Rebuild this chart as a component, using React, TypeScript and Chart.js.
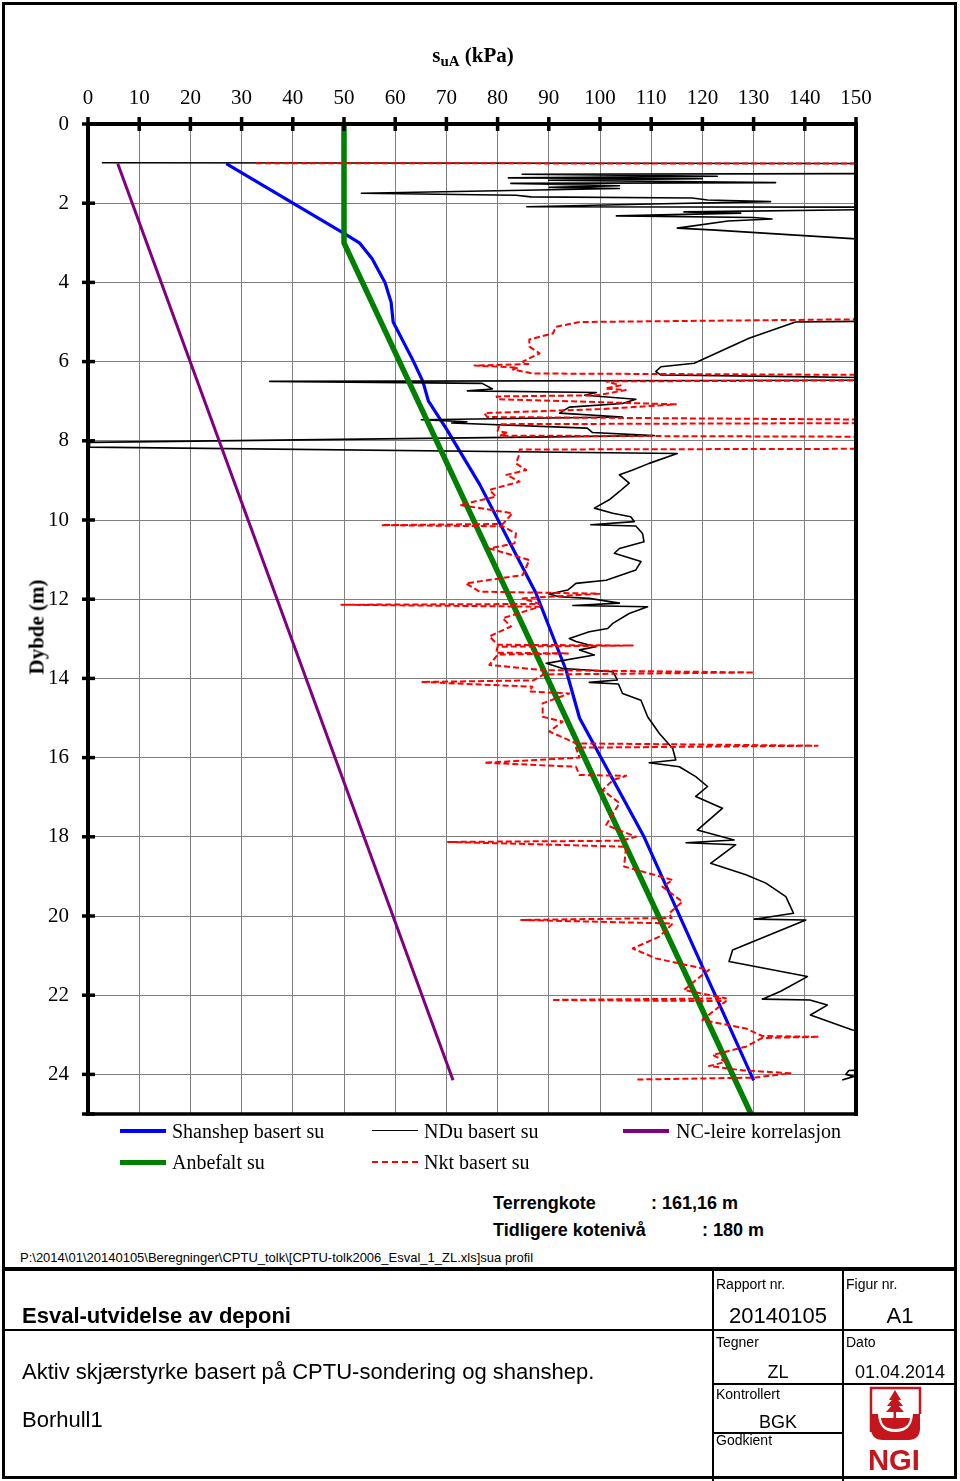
import React, { useEffect, useRef } from 'react';
import { Chart, registerables } from 'chart.js';

Chart.register(...registerables);

// ---------- data ----------
const SU_MIN = 0;
const SU_MAX = 150;
const SU_STEP = 10;
const DEPTH_MIN = 0;
const DEPTH_MAX = 25;
const DEPTH_STEP = 2;

// [su (kPa), depth (m)]
const shanshepProfile: [number, number][] = [
  [27, 1.0], [50, 2.76], [53, 3.0], [55.5, 3.4], [58, 4.0], [59.2, 4.5], [59.6, 5.0],
  [63.4, 5.95], [65.4, 6.5], [66.5, 7.0], [70, 7.7], [76.5, 9.1], [87.5, 11.85],
  [93.4, 13.8], [96, 15.0], [108.6, 18.0], [130, 24.15],
];

const anbefaltProfile: [number, number][] = [
  [50, 0], [50, 3.0], [129.5, 25],
];

const ncLeireProfile: [number, number][] = [
  [5.8, 1.0], [71.3, 24.15],
];

const nduProfile: [number, number][] = [
  [2.7, 0.98], [160, 1.0], [160, 1.25], [84.8, 1.27], [122.9, 1.32], [82.1, 1.36], [120, 1.38],
  [90, 1.42], [134.3, 1.48], [82.6, 1.5], [103.8, 1.56], [90.1, 1.6], [103.8, 1.63], [53.4, 1.75],
  [83.6, 1.8], [86.5, 1.84], [118, 1.87], [121, 1.92], [133.3, 1.96], [110, 2.02], [85.7, 2.09],
  [160, 2.1], [160, 2.15], [116.4, 2.22], [127.5, 2.25], [103.2, 2.32], [130, 2.36], [133.6, 2.4],
  [125, 2.45], [115.1, 2.63], [122.6, 2.68], [150, 2.9], [160, 2.92], [160, 4.97], [138.2, 5.0],
  [129.1, 5.41], [118.4, 6.04], [111.9, 6.13], [110.9, 6.25], [111.9, 6.34], [138, 6.38],
  [160, 6.42], [160, 6.47], [35.5, 6.5], [77, 6.55], [79, 6.69], [74.1, 6.74], [99.3, 6.78],
  [97, 6.85], [107, 6.95], [104.4, 7.06], [94, 7.15], [92.1, 7.3], [104.4, 7.4], [65.1, 7.47],
  [74, 7.52], [71, 7.55], [97.5, 7.68], [98.5, 7.79], [110.6, 7.87], [0.3, 8.04], [0.3, 8.16],
  [115.1, 8.32], [109.6, 8.57], [106.4, 8.74], [103.8, 8.86], [105.7, 9.07], [103.8, 9.28],
  [101.8, 9.49], [98.9, 9.7], [102.5, 9.83], [106, 9.92], [106.7, 10.04], [98.2, 10.12],
  [107, 10.15], [108.3, 10.34], [108.6, 10.55], [103.8, 10.72], [102.8, 10.84], [108, 11.05],
  [107, 11.26], [101.2, 11.52], [95.3, 11.6], [93.7, 11.77], [90.1, 11.87], [92, 11.94],
  [97.9, 11.98], [103.8, 12.1], [94.7, 12.16], [109.3, 12.19], [105.7, 12.36], [102.5, 12.61],
  [101.5, 12.74], [97.9, 12.82], [94, 12.99], [95.3, 13.07], [99.2, 13.2], [96, 13.28],
  [98.9, 13.41], [89.5, 13.62], [92.7, 13.75], [102.5, 13.83], [103.4, 14.04], [97.9, 14.1],
  [103.6, 14.14], [104.4, 14.38], [108, 14.55], [109.3, 14.97], [111.6, 15.39], [114.2, 15.77],
  [114.8, 16.06], [109.6, 16.13], [115.5, 16.23], [118.7, 16.48], [121, 16.73], [118.7, 16.98],
  [123.9, 17.28], [119, 17.83], [126.2, 18.08], [116.8, 18.15], [126.5, 18.2], [121.6, 18.67],
  [128.5, 18.96], [132.4, 19.17], [136.3, 19.51], [137.8, 19.93], [130.1, 20.08], [140.2, 20.1],
  [125.9, 20.86], [125.2, 21.15], [140.5, 21.53], [135.3, 21.9], [131.7, 22.1], [141, 22.12],
  [144.4, 22.25], [141.1, 22.5], [149.3, 22.88], [160, 23.0], [160, 23.85], [148.6, 23.9],
  [148, 24.0], [149.6, 24.05], [147.3, 24.14],
];

const nktProfile: [number, number][] = [
  [32.8, 0.99], [160, 1.0], [160, 4.92], [96, 5.0], [91.4, 5.12], [90.8, 5.29], [86.2, 5.44],
  [86.2, 5.62], [88.2, 5.79], [84.9, 6.0], [86, 6.06], [75.5, 6.1], [84, 6.15], [83, 6.2],
  [86.8, 6.3], [160, 6.34], [160, 6.47], [101.2, 6.5], [104, 6.6], [101, 6.68], [105, 6.72],
  [99.5, 6.85], [79.8, 6.88], [80, 6.95], [114.8, 7.08], [100, 7.2], [77.4, 7.3], [78, 7.4],
  [160, 7.47], [160, 7.55], [80.4, 7.58], [80, 7.75], [82, 7.8], [80.4, 7.87], [160, 7.9],
  [160, 8.2], [84.3, 8.22], [84.3, 8.32], [83.6, 8.57], [85.6, 8.74], [81.7, 8.86], [84.3, 9.03],
  [78.4, 9.24], [79.7, 9.41], [72.6, 9.62], [82.9, 9.83], [81, 10.1], [57.3, 10.13], [81, 10.16],
  [83.6, 10.34], [83.3, 10.59], [78.4, 10.72], [86.2, 11.01], [84.9, 11.39], [73.8, 11.6],
  [76.5, 11.81], [99.9, 11.86], [84.9, 11.98], [88.2, 12.12], [49.5, 12.14], [88.2, 12.19],
  [81, 12.48], [82.6, 12.69], [78.4, 12.94], [80, 13.15], [106.4, 13.17], [80, 13.2],
  [79.7, 13.35], [94, 13.37], [80, 13.4], [78.4, 13.66], [88.8, 13.79], [130.1, 13.85],
  [89, 13.9], [87, 14.05], [65.1, 14.09], [86.8, 14.21], [86.2, 14.33], [94, 14.38],
  [88.8, 14.63], [88.8, 14.97], [92.7, 15.09], [90.1, 15.34], [95.3, 15.64], [142.5, 15.7],
  [95.3, 15.75], [96, 16.0], [77.4, 16.13], [95.3, 16.23], [96, 16.44], [105.1, 16.46],
  [102.5, 16.57], [100.5, 16.82], [103.8, 17.15], [101.2, 17.7], [107, 18.0], [104, 18.1],
  [70.3, 18.13], [105.1, 18.25], [104.7, 18.75], [114.2, 19.09], [112.2, 19.26], [116.1, 19.64],
  [113.5, 19.93], [114, 20.05], [84.6, 20.1], [114.2, 20.19], [111.6, 20.52], [106.4, 20.82],
  [110.9, 21.07], [121.3, 21.36], [118.7, 21.62], [116.4, 21.87], [124.6, 22.08], [90.6, 22.12],
  [124.6, 22.15], [122, 22.42], [120, 22.63], [128.5, 22.84], [131.7, 23.03], [142.8, 23.05],
  [131.7, 23.08], [128.5, 23.3], [122, 23.51], [124.6, 23.68], [121.3, 23.79], [128, 23.9],
  [137.2, 23.97], [130.4, 24.08], [107, 24.13],
];

const seriesNames = ['Shanshep basert su', 'NDu basert su', 'NC-leire korrelasjon', 'Anbefalt su', 'Nkt basert su'];

// ---------- styling ----------
const SERIF = '"Liberation Serif", "Times New Roman", serif';
const SANS = '"Liberation Sans", Arial, sans-serif';
const BLUE = '#0000ff';
const GREEN = '#008000';
const PURPLE = '#800080';
const RED = '#ff0000';
const LOGO_RED = '#c4161c';

const toPts = (p: [number, number][]) => p.map(([x, y]) => ({ x, y }));

const framePlugin = {
  id: 'frame',
  afterDatasetsDraw(chart: any) {
    const { ctx, chartArea: a, scales } = chart;
    const xs = scales.x;
    const ys = scales.y;
    ctx.save();
    ctx.strokeStyle = '#000';
    ctx.lineCap = 'butt';
    const seg = (x1: number, y1: number, x2: number, y2: number) => {
      ctx.beginPath();
      ctx.moveTo(x1, y1);
      ctx.lineTo(x2, y2);
      ctx.stroke();
    };
    ctx.lineWidth = 4;
    seg(a.left - 2, a.top, a.right + 2, a.top);
    seg(a.left, a.top, a.left, a.bottom + 2);
    seg(a.right, a.top, a.right, a.bottom + 2);
    ctx.lineWidth = 3.5;
    seg(a.left, a.bottom, a.right + 2, a.bottom);
    ctx.lineWidth = 3.5;
    for (let v = SU_MIN; v <= SU_MAX; v += SU_STEP) {
      const px = xs.getPixelForValue(v);
      seg(px, a.top - 7, px, a.top + 7);
    }
    for (let v = DEPTH_MIN; v <= DEPTH_MAX; v += DEPTH_STEP) {
      const py = ys.getPixelForValue(v);
      seg(a.left - 6, py, a.left + 7, py);
    }
    const pb = ys.getPixelForValue(DEPTH_MAX);
    seg(a.left - 6, pb, a.left + 7, pb);
    ctx.restore();
  },
};

function Txt(props: {
  x: number; y: number; size: number; font?: string; bold?: boolean;
  align?: 'left' | 'center' | 'right'; color?: string; children: React.ReactNode;
}) {
  const { x, y, size, font = SANS, bold = false, align = 'left', color = '#000', children } = props;
  const tx = align === 'center' ? '-50%' : align === 'right' ? '-100%' : '0';
  return (
    <div
      style={{
        position: 'absolute', left: x, top: y, transform: `translate(${tx}, -50%)`,
        fontSize: size, fontFamily: font, fontWeight: bold ? 'bold' : 'normal',
        lineHeight: 1, whiteSpace: 'nowrap', color,
      }}
    >
      {children}
    </div>
  );
}

function Box(props: { x: number; y: number; w: number; h: number }) {
  return <div style={{ position: 'absolute', left: props.x, top: props.y, width: props.w, height: props.h, background: '#000' }} />;
}

function LegendLine(props: { x: number; y: number; color: string; width: number; dashed?: boolean }) {
  const { x, y, color, width, dashed } = props;
  return (
    <div
      style={{
        position: 'absolute', left: x, top: y - width / 2, width: 46, height: 0,
        borderTop: `${width}px ${dashed ? 'dashed' : 'solid'} ${color}`,
      }}
    />
  );
}

export default function App() {
  const ref = useRef<HTMLCanvasElement>(null);

  useEffect(() => {
    if (!ref.current) return;
    const tickFont = { family: 'Liberation Serif', size: 21 };
    const chart = new Chart(ref.current, {
      type: 'scatter',
      data: {
        datasets: [
          { label: seriesNames[4], data: toPts(nktProfile), showLine: true, borderColor: RED, borderWidth: 2, borderDash: [6, 3], pointRadius: 0, order: 1, clip: 2 },
          { label: seriesNames[3], data: toPts(anbefaltProfile), showLine: true, borderColor: GREEN, borderWidth: 5.5, pointRadius: 0, order: 2, clip: 2 },
          { label: seriesNames[2], data: toPts(ncLeireProfile), showLine: true, borderColor: PURPLE, borderWidth: 3, pointRadius: 0, order: 3, clip: 2 },
          { label: seriesNames[1], data: toPts(nduProfile), showLine: true, borderColor: '#000', borderWidth: 1.6, pointRadius: 0, order: 4, clip: 2 },
          { label: seriesNames[0], data: toPts(shanshepProfile), showLine: true, borderColor: BLUE, borderWidth: 3.2, pointRadius: 0, order: 5, clip: 2 },
        ] as any,
      },
      options: {
        animation: false,
        responsive: false,
        maintainAspectRatio: false,
        layout: { padding: { left: 0, top: 0, right: 104, bottom: 66 } },
        plugins: { legend: { display: false }, tooltip: { enabled: false }, title: { display: false } },
        elements: { line: { tension: 0, borderJoinStyle: 'round' as any } },
        scales: {
          x: {
            type: 'linear', position: 'top', min: SU_MIN, max: SU_MAX,
            ticks: { stepSize: SU_STEP, padding: 13, font: tickFont, color: '#000', maxRotation: 0, autoSkip: false, includeBounds: false },
            grid: { color: '#7f7f7f', lineWidth: 1, drawTicks: false },
            border: { display: false },
            afterFit: (s: any) => { s.height = 124; },
          },
          y: {
            type: 'linear', reverse: true, min: DEPTH_MIN, max: DEPTH_MAX,
            ticks: { stepSize: DEPTH_STEP, padding: 19, font: tickFont, color: '#000', autoSkip: false, includeBounds: false },
            grid: { color: '#7f7f7f', lineWidth: 1, drawTicks: false },
            border: { display: false },
            afterFit: (s: any) => { s.width = 88; },
          },
        } as any,
      },
      plugins: [framePlugin],
    });
    return () => chart.destroy();
  }, []);

  const legendFont = SERIF;

  return (
    <div style={{ position: 'absolute', left: 0, top: 0, width: 960, height: 1481, background: '#fff', overflow: 'hidden' }}>
      <canvas ref={ref} width={960} height={1180} style={{ position: 'absolute', left: 0, top: 0, width: 960, height: 1180 }} />

      {/* axis titles */}
      <Txt x={473} y={55} size={21} font={SERIF} bold align="center">
        s<sub style={{ fontSize: 15, verticalAlign: '-0.3em', lineHeight: 0 }}>uA</sub> (kPa)
      </Txt>
      <div
        style={{
          position: 'absolute', left: 37, top: 627, transform: 'translate(-50%, -50%) rotate(-90deg)',
          fontFamily: SERIF, fontWeight: 'bold', fontSize: 21, lineHeight: 1, whiteSpace: 'nowrap',
        }}
      >
        Dybde (m)
      </div>

      {/* legend */}
      <LegendLine x={120} y={1131} color={BLUE} width={4} />
      <Txt x={172} y={1131} size={20} font={legendFont}>{seriesNames[0]}</Txt>
      <LegendLine x={372} y={1131} color="#000" width={1.5} />
      <Txt x={424} y={1131} size={20} font={legendFont}>{seriesNames[1]}</Txt>
      <LegendLine x={623} y={1131} color={PURPLE} width={4} />
      <Txt x={676} y={1131} size={20} font={legendFont}>{seriesNames[2]}</Txt>
      <LegendLine x={120} y={1162} color={GREEN} width={5} />
      <Txt x={172} y={1162} size={20} font={legendFont}>{seriesNames[3]}</Txt>
      <LegendLine x={372} y={1162} color={RED} width={2} dashed />
      <Txt x={424} y={1162} size={20} font={legendFont}>{seriesNames[4]}</Txt>

      {/* info */}
      <Txt x={493} y={1203} size={18} bold>Terrengkote</Txt>
      <Txt x={651} y={1203} size={18} bold>: 161,16 m</Txt>
      <Txt x={493} y={1230} size={18} bold>Tidligere kotenivå</Txt>
      <Txt x={702} y={1230} size={18} bold>: 180 m</Txt>
      <Txt x={20} y={1257} size={13}>{'P:\\2014\\01\\20140105\\Beregninger\\CPTU_tolk\\[CPTU-tolk2006_Esval_1_ZL.xls]sua profil'}</Txt>

      {/* frame and title block lines */}
      <div style={{ position: 'absolute', left: 2, top: 2, width: 955, height: 1477, border: '3px solid #000', boxSizing: 'border-box' }} />
      <Box x={2} y={1267} w={955} h={4} />
      <Box x={2} y={1329} w={955} h={2} />
      <Box x={712} y={1271} w={2} h={1207} />
      <Box x={842} y={1271} w={2} h={1207} />
      <Box x={712} y={1383} w={245} h={2} />
      <Box x={712} y={1432} w={132} h={2} />

      {/* title block text */}
      <Txt x={22} y={1316} size={22} bold>Esval-utvidelse av deponi</Txt>
      <Txt x={22} y={1372} size={22}>Aktiv skjærstyrke basert på CPTU-sondering og shanshep.</Txt>
      <Txt x={22} y={1420} size={22}>Borhull1</Txt>

      <Txt x={716} y={1284} size={14}>Rapport nr.</Txt>
      <Txt x={846} y={1284} size={14}>Figur nr.</Txt>
      <Txt x={778} y={1316} size={22} align="center">20140105</Txt>
      <Txt x={900} y={1316} size={22} align="center">A1</Txt>
      <Txt x={716} y={1342} size={14}>Tegner</Txt>
      <Txt x={846} y={1342} size={14}>Dato</Txt>
      <Txt x={778} y={1372} size={18} align="center">ZL</Txt>
      <Txt x={900} y={1372} size={18} align="center">01.04.2014</Txt>
      <Txt x={716} y={1394} size={14}>Kontrollert</Txt>
      <Txt x={778} y={1422} size={18} align="center">BGK</Txt>
      <Txt x={716} y={1440} size={14}>Godkient</Txt>

      {/* NGI logo */}
      <svg style={{ position: 'absolute', left: 862, top: 1384 }} width={64} height={92} viewBox="0 0 64 92">
        <path d="M9 48 V4 H58 V30" fill="none" stroke={LOGO_RED} strokeWidth={2.5} />
        <path d="M9 30 H58 V44 Q58 56 46 56 H21 Q9 56 9 44 Z" fill={LOGO_RED} />
        <path d="M16 30 Q17 48 33 48 Q50 48 51 30 Z" fill="#fff" />
        <path d="M19 34 Q20 45 33 45 Q47 45 48 34 Z" fill={LOGO_RED} />
        <rect x={31.5} y={10} width={2.5} height={24} fill={LOGO_RED} />
        <path d="M33 6 L27 16 H39 Z M33 12 L25 22 H41 Z M33 18 L24 28 H42 Z" fill={LOGO_RED} />
        <text x={6} y={86} fontFamily={SANS} fontWeight="bold" fontSize={30} fill={LOGO_RED} textLength={52} lengthAdjust="spacingAndGlyphs">NGI</text>
      </svg>
    </div>
  );
}
